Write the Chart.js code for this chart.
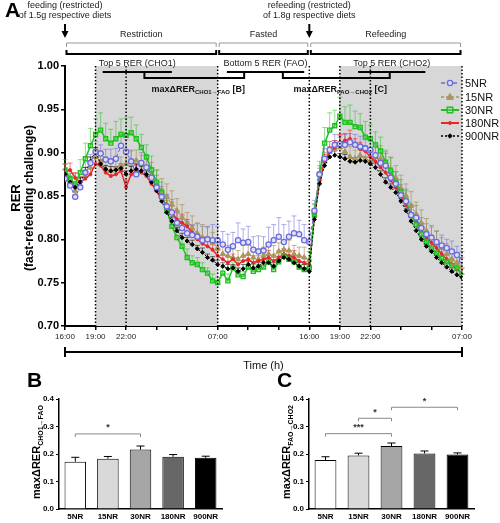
<!DOCTYPE html>
<html>
<head>
<meta charset="utf-8">
<script src="https://cdn.jsdelivr.net/npm/chart.js@4.4.1/dist/chart.umd.min.js"></script>
<style>
  body { margin: 0; background: #fff; }
  #wrap { position: relative; width: 500px; height: 523px; overflow: hidden; }
  canvas { position: absolute; }
  #cA { left: 0; top: 0; }
  #cB { left: 0; top: 365px; }
  #cC { left: 250px; top: 365px; }
</style>
</head>
<body>
<div id="wrap">
  <canvas id="cA" width="500" height="380"></canvas>
  <canvas id="cB" width="250" height="158"></canvas>
  <canvas id="cC" width="250" height="158"></canvas>
</div>
<script>
const FONT = "Arial, 'Liberation Sans', sans-serif";

// ---- panel A data (hours after 16:00 on day 1) ----
const hours = [0,0.5,1,1.5,2,2.5,3,3.5,4,4.5,5,5.5,6,6.5,7,7.5,8,8.5,9,9.5,10,10.5,11,11.5,
  12,12.5,13,13.5,14,14.5,15,15.5,16,16.5,17,17.5,18,18.5,19,19.5,20,20.5,21,21.5,22,22.5,23,23.5,
  24,24.5,25,25.5,26,26.5,27,27.5,28,28.5,29,29.5,30,30.5,31,31.5,32,32.5,33,33.5,34,34.5,35,35.5,36,36.5,37,37.5,38,38.5,39];

const groups = ['5NR', '15NR', '30NR', '180NR', '900NR'];

const rer5NR = [0.870,0.862,0.849,0.860,0.877,0.888,0.901,0.899,0.892,0.890,0.893,0.908,0.901,0.890,0.875,0.888,0.883,0.871,0.860,0.849,0.838,0.831,0.819,0.813,
  0.807,0.805,0.803,0.799,0.800,0.799,0.799,0.794,0.788,0.792,0.799,0.796,0.797,0.788,0.786,0.787,0.794,0.799,0.803,0.797,0.803,0.807,0.806,0.799,
  0.797,0.833,0.875,0.893,0.903,0.909,0.910,0.909,0.912,0.909,0.907,0.905,0.903,0.897,0.888,0.885,0.871,0.864,0.851,0.844,0.828,0.825,0.813,0.806,0.802,0.797,0.793,0.790,0.786,0.782,0.776];
const rer15NR = [0.875,0.866,0.856,0.862,0.873,0.883,0.895,0.890,0.881,0.879,0.881,0.885,0.887,0.889,0.891,0.887,0.883,0.875,0.864,0.856,0.849,0.840,0.833,0.825,
  0.819,0.813,0.807,0.802,0.800,0.796,0.790,0.783,0.781,0.779,0.777,0.781,0.783,0.779,0.777,0.781,0.783,0.781,0.786,0.788,0.787,0.783,0.781,0.779,
  0.776,0.831,0.870,0.890,0.901,0.904,0.906,0.901,0.895,0.893,0.897,0.893,0.890,0.895,0.893,0.887,0.879,0.871,0.859,0.850,0.839,0.829,0.819,0.810,0.802,0.796,0.790,0.783,0.777,0.773,0.769];
const rer30NR = [0.880,0.870,0.864,0.877,0.893,0.908,0.921,0.926,0.916,0.911,0.916,0.921,0.920,0.923,0.916,0.906,0.895,0.880,0.866,0.854,0.833,0.815,0.802,0.792,
  0.779,0.773,0.771,0.765,0.761,0.752,0.750,0.761,0.752,0.767,0.759,0.757,0.768,0.763,0.765,0.768,0.774,0.765,0.774,0.781,0.777,0.774,0.768,0.765,
  0.767,0.828,0.875,0.911,0.926,0.931,0.942,0.935,0.935,0.930,0.929,0.918,0.916,0.909,0.902,0.889,0.879,0.866,0.855,0.844,0.828,0.817,0.806,0.797,0.790,0.784,0.778,0.774,0.770,0.767,0.759];
const rer180NR = [0.877,0.880,0.871,0.866,0.870,0.875,0.887,0.885,0.877,0.873,0.875,0.879,0.860,0.875,0.879,0.877,0.873,0.864,0.856,0.846,0.840,0.831,0.823,0.819,
  0.815,0.808,0.800,0.795,0.792,0.788,0.781,0.777,0.773,0.777,0.771,0.775,0.777,0.773,0.775,0.777,0.779,0.775,0.779,0.783,0.781,0.779,0.775,0.773,
  0.771,0.825,0.866,0.890,0.901,0.906,0.911,0.914,0.916,0.908,0.904,0.902,0.895,0.890,0.883,0.877,0.868,0.860,0.850,0.840,0.829,0.821,0.811,0.802,0.796,0.790,0.783,0.777,0.771,0.766,0.761];
const rer900NR = [0.875,0.866,0.860,0.866,0.877,0.890,0.902,0.887,0.881,0.879,0.880,0.882,0.875,0.879,0.881,0.879,0.875,0.866,0.856,0.844,0.831,0.821,0.810,0.802,
  0.798,0.794,0.789,0.785,0.779,0.776,0.771,0.769,0.766,0.767,0.763,0.766,0.771,0.767,0.769,0.773,0.773,0.769,0.775,0.779,0.777,0.773,0.769,0.766,
  0.763,0.823,0.864,0.885,0.895,0.897,0.895,0.893,0.890,0.889,0.891,0.890,0.887,0.883,0.875,0.866,0.860,0.854,0.844,0.833,0.821,0.810,0.800,0.792,0.786,0.779,0.773,0.768,0.763,0.759,0.756];

// SEM (upper error bars)
const sem5NR = [0.010,0.012,0.010,0.012,0.012,0.010,0.012,0.010,0.012,0.014,0.012,0.012,0.014,0.012,0.010,0.012,0.014,0.012,0.014,0.012,0.014,0.015,0.012,0.014,
  0.014,0.012,0.015,0.016,0.015,0.018,0.016,0.015,0.018,0.016,0.020,0.016,0.018,0.015,0.018,0.016,0.020,0.018,0.022,0.020,0.018,0.020,0.016,0.018,
  0.016,0.012,0.010,0.012,0.010,0.012,0.010,0.012,0.010,0.012,0.012,0.010,0.012,0.014,0.012,0.014,0.012,0.014,0.012,0.014,0.012,0.014,0.012,0.012,0.014,0.012,0.012,0.010,0.012,0.010,0.010];
const sem15NR = [0.012,0.010,0.008,0.010,0.010,0.012,0.010,0.012,0.010,0.010,0.012,0.010,0.012,0.014,0.012,0.010,0.012,0.014,0.016,0.014,0.015,0.016,0.014,0.015,
  0.012,0.014,0.012,0.015,0.014,0.012,0.010,0.010,0.012,0.010,0.010,0.012,0.010,0.010,0.012,0.010,0.010,0.012,0.010,0.010,0.012,0.010,0.010,0.012,
  0.010,0.010,0.012,0.010,0.012,0.010,0.012,0.010,0.012,0.010,0.012,0.014,0.012,0.014,0.015,0.014,0.016,0.014,0.015,0.014,0.016,0.014,0.015,0.014,0.012,0.014,0.012,0.012,0.010,0.012,0.010];
const sem30NR = [0.012,0.010,0.012,0.015,0.018,0.020,0.018,0.020,0.018,0.016,0.020,0.018,0.020,0.018,0.016,0.015,0.014,0.016,0.014,0.012,0.012,0.010,0.012,0.010,
  0.010,0.008,0.008,0.008,0.006,0.008,0.006,0.006,0.008,0.006,0.008,0.006,0.006,0.008,0.006,0.006,0.008,0.006,0.008,0.006,0.006,0.008,0.006,0.006,
  0.008,0.012,0.015,0.018,0.020,0.018,0.022,0.018,0.020,0.018,0.016,0.018,0.016,0.015,0.016,0.014,0.015,0.012,0.014,0.012,0.012,0.010,0.012,0.010,0.010,0.009,0.008,0.008,0.008,0.007,0.007];
const sem180NR = [0.010,0.008,0.006,0.006,0.008,0.006,0.008,0.006,0.008,0.006,0.008,0.006,0.008,0.010,0.008,0.008,0.010,0.008,0.010,0.012,0.010,0.012,0.010,0.010,
  0.008,0.008,0.006,0.008,0.006,0.008,0.006,0.006,0.008,0.006,0.008,0.006,0.006,0.008,0.006,0.006,0.008,0.006,0.008,0.006,0.006,0.008,0.006,0.006,
  0.006,0.008,0.006,0.008,0.006,0.008,0.010,0.008,0.010,0.008,0.008,0.006,0.008,0.006,0.008,0.006,0.008,0.006,0.008,0.006,0.008,0.006,0.008,0.006,0.006,0.008,0.006,0.006,0.006,0.006,0.006];
const sem900NR = [0.006,0.005,0.004,0.005,0.006,0.005,0.004,0.005,0.004,0.005,0.004,0.005,0.004,0.005,0.006,0.005,0.004,0.005,0.006,0.005,0.004,0.005,0.004,0.005,
  0.004,0.005,0.004,0.005,0.004,0.004,0.005,0.004,0.005,0.004,0.004,0.005,0.004,0.005,0.004,0.004,0.005,0.004,0.005,0.004,0.004,0.005,0.004,0.005,
  0.004,0.005,0.004,0.005,0.006,0.005,0.004,0.005,0.004,0.005,0.004,0.005,0.004,0.005,0.004,0.005,0.004,0.005,0.004,0.005,0.004,0.005,0.004,0.005,0.004,0.005,0.004,0.005,0.004,0.005,0.004];

// axis ticks
const tickHours = [0, 3, 6, 15, 24, 27, 30, 39];
const tickTexts = ['16:00', '19:00', '22:00', '07:00', '16:00', '19:00', '22:00', '07:00'];

// periods / annotations
const periodNames = ['Restriction', 'Fasted', 'Refeeding'];
const periodStart = [0, 15, 24];
const periodEnd = [15, 24, 39];
const shadeStart = [3, 27];
const shadeEnd = [15, 39];
const dottedHours = [3, 6, 15, 24, 27, 30, 39];
const feedHours = [0, 24];
const feedNotes = [['feeding (restricted)', 'of 1.5g respective diets'], ['refeeding (restricted)', 'of 1.8g respective diets']];
const windowNames = ['Top 5 RER (CHO1)', 'Bottom 5 RER (FAO)', 'Top 5 RER (CHO2)'];
const windowStart = [3.7, 15.9, 28.8];
const windowEnd = [10.5, 23.5, 35.4];
const deltaSubs = ['CHO1\u2192FAO', 'FAO\u2192CHO2'];
const deltaTags = [' [B]', ' [C]'];
const deltaStart = [7.8, 21.4];
const deltaEnd = [17.6, 31.9];

// ---- panels B, C ----
const deltaB = [0.172, 0.183, 0.216, 0.190, 0.186];
const semB = [0.016, 0.008, 0.013, 0.008, 0.006];
const deltaC = [0.178, 0.195, 0.229, 0.202, 0.198];
const semC = [0.012, 0.008, 0.011, 0.009, 0.006];
const sigB = [[0, 2, 0.273, '*']];
const sigC = [[0, 2, 0.274, '***'], [1, 2, 0.33, '*'], [2, 4, 0.37, '*']];

// ---- styles ----
const seriesStyle = {
  '5NR':   { color: '#6b6bdc', fill: 'rgba(228,228,255,0.9)', point: 'circle', r: 2.6, bw: 1.3, lw: 1, dash: [4, 2], err: 'rgba(107,107,220,0.55)', order: 1 },
  '15NR':  { color: '#a8965c', fill: '#a8965c', point: 'triangle', r: 3, bw: 1, lw: 1, dash: [3, 2], err: 'rgba(168,150,92,0.7)', order: 5 },
  '30NR':  { color: '#1fbf1f', fill: 'rgba(150,230,150,0.35)', point: 'rect', r: 2.8, bw: 1.4, lw: 1.5, dash: [], err: 'rgba(31,191,31,0.5)', order: 3 },
  '180NR': { color: '#e8262a', fill: '#e8262a', point: 'circle', r: 1.5, bw: 1, lw: 1.5, dash: [], err: 'rgba(232,38,42,0.6)', order: 4 },
  '900NR': { color: '#000000', fill: '#000000', point: 'rectRot', r: 1.6, bw: 1, lw: 1, dash: [2, 2], err: 'rgba(0,0,0,0.55)', order: 2 }
};
const seriesValues = [rer5NR, rer15NR, rer30NR, rer180NR, rer900NR];
const seriesSem = [sem5NR, sem15NR, sem30NR, sem180NR, sem900NR];
const barColors = ['#ffffff', '#d9d9d9', '#a6a6a6', '#676767', '#000000'];

function drawMarker(ctx, st, x, y) {
  const r = st.r;
  ctx.save();
  ctx.fillStyle = st.fill; ctx.strokeStyle = st.color; ctx.lineWidth = st.bw; ctx.setLineDash([]);
  ctx.beginPath();
  if (st.point === 'circle') ctx.arc(x, y, r, 0, Math.PI * 2);
  else if (st.point === 'rect') ctx.rect(x - r, y - r, 2 * r, 2 * r);
  else if (st.point === 'rectRot') { ctx.moveTo(x, y - r * 1.4); ctx.lineTo(x + r * 1.4, y); ctx.lineTo(x, y + r * 1.4); ctx.lineTo(x - r * 1.4, y); ctx.closePath(); }
  else { ctx.moveTo(x, y - r * 1.2); ctx.lineTo(x + r * 1.1, y + r * 0.8); ctx.lineTo(x - r * 1.1, y + r * 0.8); ctx.closePath(); }
  ctx.fill(); ctx.stroke();
  ctx.restore();
}

function line(ctx, pts, w, color, dash) {
  ctx.save();
  ctx.lineWidth = w; ctx.strokeStyle = color; ctx.setLineDash(dash || []);
  ctx.beginPath();
  ctx.moveTo(pts[0][0], pts[0][1]);
  for (let k = 1; k < pts.length; k++) ctx.lineTo(pts[k][0], pts[k][1]);
  ctx.stroke();
  ctx.restore();
}

function text(ctx, str, x, y, font, align, color) {
  ctx.save();
  ctx.font = font; ctx.textAlign = align || 'center'; ctx.textBaseline = 'middle';
  ctx.fillStyle = color || '#000';
  ctx.fillText(str, x, y);
  ctx.restore();
}

// ---- panel A ----
const panelA = {
  id: 'panelA',
  beforeDatasetsDraw(chart) {
    const ctx = chart.ctx, ca = chart.chartArea, xs = chart.scales.x, ys = chart.scales.y;
    ctx.save();
    ctx.fillStyle = '#d7d7d7';
    shadeStart.forEach((s, k) => {
      const a = xs.getPixelForValue(s), b = xs.getPixelForValue(shadeEnd[k]);
      ctx.fillRect(a, ca.top, b - a, ca.bottom - ca.top);
    });
    ctx.restore();
    // upper error bars
    chart.data.datasets.forEach((ds, d) => {
      const meta = chart.getDatasetMeta(d);
      const sem = seriesSem[d], vals = seriesValues[d];
      const st = seriesStyle[groups[d]];
      ctx.save();
      ctx.strokeStyle = st.err; ctx.lineWidth = 1;
      meta.data.forEach((el, i) => {
        const top = ys.getPixelForValue(vals[i] + sem[i]);
        ctx.beginPath();
        ctx.moveTo(el.x, el.y); ctx.lineTo(el.x, top);
        ctx.moveTo(el.x - 2.5, top); ctx.lineTo(el.x + 2.5, top);
        ctx.stroke();
      });
      ctx.restore();
    });
  },
  afterDatasetsDraw(chart) {
    const ca = chart.chartArea, xs = chart.scales.x;
    dottedHours.forEach(h => {
      const x = xs.getPixelForValue(h);
      line(chart.ctx, [[x, ca.top], [x, ca.bottom]], 1.5, '#000', [1.5, 2]);
    });
  },
  afterDraw(chart) {
    const ctx = chart.ctx, xs = chart.scales.x;
    const px = h => xs.getPixelForValue(h);
    text(ctx, 'A', 5, 11, 'bold 21px ' + FONT, 'left');

    feedHours.forEach((h, k) => {
      const x = px(h);
      text(ctx, feedNotes[k][0], x, 6, '9px ' + FONT, 'center', '#222');
      text(ctx, feedNotes[k][1], x, 16, '9px ' + FONT, 'center', '#222');
      line(ctx, [[x, 24], [x, 32]], 2, '#000');
      ctx.save(); ctx.fillStyle = '#000'; ctx.beginPath();
      ctx.moveTo(x - 3.5, 31); ctx.lineTo(x + 3.5, 31); ctx.lineTo(x, 38); ctx.closePath(); ctx.fill(); ctx.restore();
    });

    periodNames.forEach((name, k) => {
      const a = px(periodStart[k]) + 1.5, b = px(periodEnd[k]) - 1.5;
      text(ctx, name, (a + b) / 2, 35, '9px ' + FONT, 'center', '#222');
      line(ctx, [[a, 47], [a, 43], [b, 43], [b, 47]], 1, '#999');
      line(ctx, [[a, 50], [a, 54], [b, 54], [b, 50]], 2, '#000');
    });

    windowNames.forEach((name, k) => {
      const a = px(windowStart[k]), b = px(windowEnd[k]);
      text(ctx, name, (a + b) / 2, 64, '9px ' + FONT, 'center', '#222');
      line(ctx, [[a, 72], [b, 72]], 2, '#000');
    });

    deltaSubs.forEach((sub, k) => {
      const a = px(deltaStart[k]), b = px(deltaEnd[k]);
      line(ctx, [[a, 73], [a, 78], [b, 78], [b, 73]], 2, '#000');
      ctx.save();
      ctx.textBaseline = 'alphabetic'; ctx.textAlign = 'left'; ctx.fillStyle = '#111';
      const f1 = 'bold 9px ' + FONT, f2 = 'bold 6px ' + FONT;
      ctx.font = f1; const w1 = ctx.measureText('max\u0394RER').width, w3 = ctx.measureText(deltaTags[k]).width;
      ctx.font = f2; const w2 = ctx.measureText(sub).width;
      let x = (a + b) / 2 + 4 - (w1 + w2 + w3) / 2;
      ctx.font = f1; ctx.fillText('max\u0394RER', x, 92); x += w1;
      ctx.font = f2; ctx.fillText(sub, x, 94); x += w2;
      ctx.font = f1; ctx.fillText(deltaTags[k], x, 92);
      ctx.restore();
    });

    // legend
    const rows = [83, 97, 110, 123, 136];
    groups.forEach((g, k) => {
      const st = seriesStyle[g];
      line(ctx, [[441, rows[k]], [459, rows[k]]], st.lw + 0.5, st.color, st.dash);
      drawMarker(ctx, st, 450, rows[k]);
      text(ctx, g, 465, rows[k] + 1, '11px ' + FONT, 'left', '#111');
    });

    // y title
    ctx.save();
    ctx.translate(16, 198); ctx.rotate(-Math.PI / 2);
    text(ctx, 'RER', 0, 0, 'bold 13px ' + FONT);
    text(ctx, '(fast-refeeding challenge)', 0, 14, 'bold 12px ' + FONT);
    ctx.restore();

    // time bracket
    const a = px(0), b = px(39);
    line(ctx, [[a, 352], [b, 352]], 2, '#000');
    line(ctx, [[a, 347], [a, 357]], 2, '#000');
    line(ctx, [[b, 347], [b, 357]], 2, '#000');
    text(ctx, 'Time (h)', (a + b) / 2, 366, '11px ' + FONT, 'center', '#111');
  }
};

new Chart(document.getElementById('cA'), {
  type: 'line',
  data: {
    datasets: groups.map((g, d) => {
      const st = seriesStyle[g];
      return {
        label: g,
        data: hours.map((h, i) => ({ x: h, y: seriesValues[d][i] })),
        borderColor: st.color, borderWidth: st.lw, borderDash: st.dash,
        pointStyle: st.point, pointRadius: st.point === 'rectRot' ? st.r * 1.3 : st.r,
        pointBackgroundColor: st.fill, pointBorderColor: st.color, pointBorderWidth: st.bw,
        tension: 0, order: st.order
      };
    })
  },
  options: {
    responsive: false, animation: false, devicePixelRatio: 1,
    layout: { padding: { left: 0, top: 66, right: 38, bottom: 0 } },
    plugins: { legend: { display: false }, tooltip: { enabled: false } },
    scales: {
      x: {
        type: 'linear', min: 0, max: 39,
        afterFit: s => { s.height = 54; },
        ticks: {
          stepSize: 3, autoSkip: false, maxRotation: 0, padding: 2, color: '#222',
          font: { family: FONT, size: 8 },
          callback: v => { const k = tickHours.indexOf(v); return k >= 0 ? tickTexts[k] : ''; }
        },
        grid: { drawOnChartArea: false, tickLength: 4, color: '#000', lineWidth: 1.5 },
        border: { color: '#000', width: 2 }
      },
      y: {
        min: 0.70, max: 1.00,
        afterFit: s => { s.width = 65; },
        ticks: {
          stepSize: 0.05, color: '#000', padding: 2,
          font: { family: FONT, size: 11, weight: 'bold' },
          callback: v => v.toFixed(2)
        },
        grid: { drawOnChartArea: false, tickLength: 4, color: '#000', lineWidth: 1.5 },
        border: { color: '#000', width: 2 }
      }
    }
  },
  plugins: [panelA]
});

// ---- panels B & C ----
function barPanel(id, letter, values, sems, sigs, sub, rightPad) {
  const plug = {
    id: 'bar' + letter,
    afterDatasetsDraw(chart) {
      const ctx = chart.ctx, ys = chart.scales.y, xs = chart.scales.x;
      const meta = chart.getDatasetMeta(0);
      meta.data.forEach((el, i) => {
        const top = ys.getPixelForValue(values[i] + sems[i]);
        line(ctx, [[el.x, el.y], [el.x, top]], 1, '#000');
        line(ctx, [[el.x - 4, top], [el.x + 4, top]], 1, '#000');
      });
      sigs.forEach(s => {
        const a = xs.getPixelForValue(s[0]), b = xs.getPixelForValue(s[1]), y = ys.getPixelForValue(s[2]);
        line(ctx, [[a, y + 3], [a, y], [b, y], [b, y + 3]], 1, '#888');
        text(ctx, s[3], (a + b) / 2, y - 6, 'bold 9px ' + FONT, 'center', '#333');
      });
    },
    afterDraw(chart) {
      const ctx = chart.ctx;
      text(ctx, letter, 27, 16, 'bold 21px ' + FONT, 'left');
      ctx.save();
      ctx.translate(36, 87); ctx.rotate(-Math.PI / 2);
      ctx.textBaseline = 'alphabetic'; ctx.textAlign = 'left'; ctx.fillStyle = '#000';
      const f1 = 'bold 11px ' + FONT, f2 = 'bold 7px ' + FONT;
      ctx.font = f1; const w1 = ctx.measureText('max\u0394RER').width;
      ctx.font = f2; const w2 = ctx.measureText(sub).width;
      let x = -(w1 + w2) / 2;
      ctx.font = f1; ctx.fillText('max\u0394RER', x, 4);
      ctx.font = f2; ctx.fillText(sub, x + w1, 7);
      ctx.restore();
    }
  };
  new Chart(document.getElementById(id), {
    type: 'bar',
    data: {
      labels: groups,
      datasets: [{
        data: values, backgroundColor: barColors, borderColor: '#000', borderWidth: 1,
        barPercentage: 0.66, categoryPercentage: 1
      }]
    },
    options: {
      responsive: false, animation: false, devicePixelRatio: 1,
      layout: { padding: { left: 0, top: 34, right: rightPad, bottom: 0 } },
      plugins: { legend: { display: false }, tooltip: { enabled: false } },
      scales: {
        x: {
          afterFit: s => { s.height = 14; },
          ticks: { color: '#000', padding: 3, font: { family: FONT, size: 8, weight: 'bold' } },
          grid: { display: false, drawTicks: false },
          border: { color: '#000', width: 1.5 }
        },
        y: {
          min: 0, max: 0.4,
          afterFit: s => { s.width = 59; },
          ticks: { stepSize: 0.1, color: '#000', padding: 2, font: { family: FONT, size: 8, weight: 'bold' }, callback: v => v.toFixed(1) },
          grid: { drawOnChartArea: false, tickLength: 3, color: '#000' },
          border: { color: '#000', width: 1.5 }
        }
      }
    },
    plugins: [plug]
  });
}

barPanel('cB', 'B', deltaB, semB, sigB, 'CHO1\u2192FAO', 28);
barPanel('cC', 'C', deltaC, semC, sigC, 'FAO\u2192CHO2', 26);
</script>
</body>
</html>
